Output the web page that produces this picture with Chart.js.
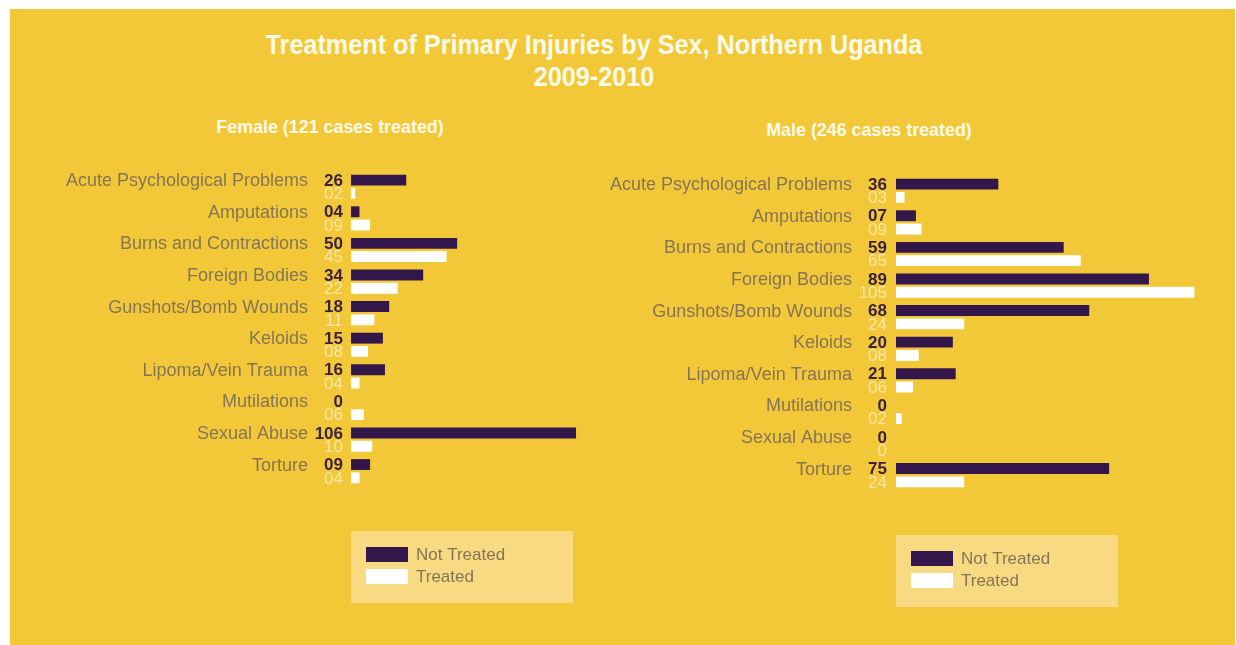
<!DOCTYPE html>
<html>
<head>
<meta charset="utf-8">
<script src="https://cdn.jsdelivr.net/npm/chart.js@4.4.1/dist/chart.umd.min.js"></script>
<style>
  html, body { margin: 0; padding: 0; background: #ffffff; }
  #wrap { position: relative; width: 1236px; height: 645px; overflow: hidden; background: #ffffff; }
  #bg { position: absolute; left: 10px; top: 9px; width: 1225px; height: 636px; background: #F3C838; }
  .title { position: absolute; left: 0; width: 1188px; text-align: center; color: #FFFBEA;
           font-family: "Liberation Sans", Arial, sans-serif; font-weight: bold; font-size: 28px;
           line-height: 32px; transform: scaleX(0.9); transform-origin: 594px 0; white-space: nowrap; }
  .sub { position: absolute; width: 400px; text-align: center; color: #FFFBEA;
         font-family: "Liberation Sans", Arial, sans-serif; font-weight: bold; font-size: 19px;
         line-height: 20px; transform: scaleX(0.94); white-space: nowrap; }
  .cv { position: absolute; }
</style>
</head>
<body>
<div id="wrap">
  <div id="bg"></div>
  <div class="title" style="top:29px;">Treatment of Primary Injuries by Sex, Northern Uganda</div>
  <div class="title" style="top:61px;">2009-2010</div>
  <div class="sub" style="left:130px; top:117px;">Female (121 cases treated)</div>
  <div class="sub" style="left:669px; top:120px;">Male (246 cases treated)</div>
  <div class="cv" style="left:10px; top:150px; width:600px; height:470px;"><canvas id="female"></canvas></div>
  <div class="cv" style="left:610px; top:150px; width:610px; height:470px;"><canvas id="male"></canvas></div>
</div>
<script>
// ---- Data ----
const categories = [
  "Acute Psychological Problems", "Amputations", "Burns and Contractions", "Foreign Bodies",
  "Gunshots/Bomb Wounds", "Keloids", "Lipoma/Vein Trauma", "Mutilations", "Sexual Abuse", "Torture"
];
const seriesNames = ["Not Treated", "Treated"];
const femaleNotTreated = [26, 4, 50, 34, 18, 15, 16, 0, 106, 9];
const femaleTreated    = [2, 9, 45, 22, 11, 8, 4, 6, 10, 4];
const maleNotTreated   = [36, 7, 59, 89, 68, 20, 21, 0, 0, 75];
const maleTreated      = [3, 9, 65, 105, 24, 8, 6, 2, 0, 24];

// ---- Style ----
const DARK = "#34174A";
const LIGHT = "#FFFFFF";
const LABEL_GREY = "#857556";
const VALUE_DARK = "#3B2240";
const VALUE_LIGHT = "#FAE6A6";
const LEGEND_BG = "#F7DA82";
const FONT = "'Liberation Sans', Arial, sans-serif";

function fmt(v) { return v === 0 ? "0" : String(v).padStart(2, "0"); }

const valueLabels = {
  id: "valueLabels",
  afterDatasetsDraw(chart, args, opts) {
    const ctx = chart.ctx;
    const x = chart.chartArea.left - opts.gap;
    ctx.save();
    ctx.textAlign = "right";
    ctx.textBaseline = "middle";
    chart.data.datasets.forEach((ds, i) => {
      const meta = chart.getDatasetMeta(i);
      ctx.font = (i === 0 ? "bold 17px " : "17px ") + FONT;
      ctx.fillStyle = i === 0 ? VALUE_DARK : VALUE_LIGHT;
      meta.data.forEach((bar, j) => {
        ctx.fillText(fmt(ds.data[j]), x, bar.y + 1);
      });
    });
    ctx.restore();
  }
};

const boxLegend = {
  id: "boxLegend",
  afterDraw(chart, args, opts) {
    const ctx = chart.ctx;
    const bx = chart.chartArea.left;
    const by = chart.chartArea.bottom + 44;
    ctx.save();
    ctx.fillStyle = LEGEND_BG;
    ctx.fillRect(bx, by, 222, 72);
    ctx.textAlign = "left";
    ctx.textBaseline = "middle";
    ctx.font = "17px " + FONT;
    chart.data.datasets.forEach((ds, i) => {
      const sy = by + 16 + i * 22;
      ctx.fillStyle = ds.backgroundColor;
      ctx.fillRect(bx + 15, sy, 42, 15);
      ctx.fillStyle = LABEL_GREY;
      ctx.fillText(ds.label, bx + 65, sy + 8);
    });
    ctx.restore();
  }
};

function makeChart(id, notTreated, treated, opt) {
  return new Chart(document.getElementById(id), {
    type: "bar",
    data: {
      labels: categories,
      datasets: [
        { label: seriesNames[0], data: notTreated, backgroundColor: DARK },
        { label: seriesNames[1], data: treated, backgroundColor: LIGHT }
      ]
    },
    options: {
      indexAxis: "y",
      responsive: true,
      maintainAspectRatio: false,
      animation: false,
      events: [],
      layout: { padding: { left: 0, right: 0, top: opt.padTop, bottom: opt.padBottom } },
      datasets: { bar: { categoryPercentage: 0.84, barPercentage: 0.82 } },
      scales: {
        x: { display: false, min: 0, max: opt.xMax },
        y: {
          grid: { display: false, drawTicks: false },
          border: { display: false },
          ticks: {
            color: LABEL_GREY,
            font: { family: FONT, size: 18 },
            padding: opt.labelPad,
            labelOffset: -5.5,
            autoSkip: false
          },
          afterFit(scale) {
            scale.width = opt.axisWidth;
            scale.paddingTop = 0;
            scale.paddingBottom = 0;
          }
        }
      },
      plugins: {
        legend: { display: false },
        tooltip: { enabled: false },
        title: { display: false },
        valueLabels: { gap: opt.valueGap },
        boxLegend: {}
      }
    },
    plugins: [valueLabels, boxLegend]
  });
}

makeChart("female", femaleNotTreated, femaleTreated,
  { padTop: 21, padBottom: 133, xMax: 122, axisWidth: 341, labelPad: 43, valueGap: 8 });
makeChart("male", maleNotTreated, maleTreated,
  { padTop: 25, padBottom: 129, xMax: 114, axisWidth: 286, labelPad: 44, valueGap: 9 });
</script>
</body>
</html>
